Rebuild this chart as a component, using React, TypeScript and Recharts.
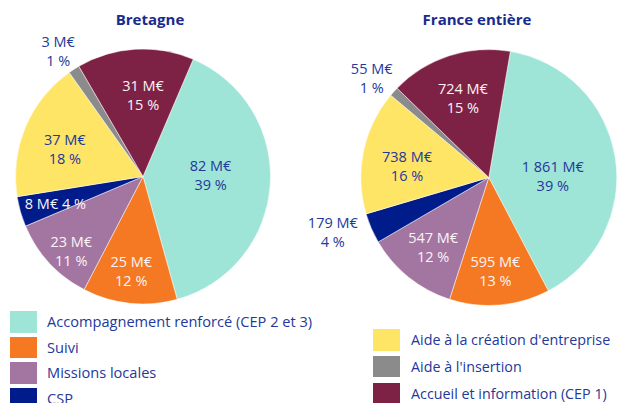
import React from 'react';
import { PieChart, Pie, Cell } from 'recharts';

const categories = [
  'Accompagnement renforcé (CEP 2 et 3)',
  'Suivi',
  'Missions locales',
  'CSP',
  "Aide à la création d'entreprise",
  "Aide à l'insertion",
  'Accueil et information (CEP 1)',
];
const bretagneValues = [82, 25, 23, 8, 37, 3, 31];
const bretagnePct = [39, 12, 11, 4, 18, 1, 15];
const franceValues = [1861, 595, 547, 179, 738, 55, 724];
const francePct = [39, 13, 12, 4, 16, 1, 15];
const titles = ['Bretagne', 'France entière'];

const colors = ['#9ee5d8', '#f47922', '#a376a2', '#001c8b', '#fee566', '#8b8b8b', '#7e2245'];
const DARK = '#24389a';
const LIGHT = '#fbf3f6';
const FONT = '"Open Sans", "Noto Sans", sans-serif';

// label style per slice: radius factor, angle offset (deg clockwise), color, single line
const bretagneLabelStyle = [
  { r: 0.53, da: -4.8, color: DARK, one: false },
  { r: 0.75, da: 1.1, color: LIGHT, one: false },
  { r: 0.81, da: -3.3, color: LIGHT, one: false },
  { r: 0.72, da: -1.4, color: LIGHT, one: true },
  { r: 0.65, da: -3.4, color: DARK, one: false },
  { r: 1.19, da: -1.2, color: DARK, one: false },
  { r: 0.64, da: 3.5, color: LIGHT, one: false },
];
const franceLabelStyle = [
  { r: 0.5, da: 7.7, color: DARK, one: false },
  { r: 0.735, da: 0.9, color: LIGHT, one: false },
  { r: 0.695, da: -0.1, color: LIGHT, one: false },
  { r: 1.29, da: 4.2, color: DARK, one: false },
  { r: 0.645, da: -3.8, color: DARK, one: false },
  { r: 1.2, da: -1.8, color: DARK, one: false },
  { r: 0.65, da: -0.1, color: LIGHT, one: false },
];

const fmt = (v: number) => String(v).replace(/\B(?=(\d{3})+(?!\d))/g, '\u00a0');

const makeData = (vals: number[], pcts: number[]) =>
  categories.map((name, i) => ({ name, value: vals[i], pct: pcts[i] }));

const bretagneData = makeData(bretagneValues, bretagnePct);
const franceData = makeData(franceValues, francePct);

const makeLabel = (styles: typeof bretagneLabelStyle) => (props: any) => {
  const { cx, cy, midAngle, outerRadius, index, payload } = props;
  const s = styles[index];
  const theta = ((90 - midAngle + s.da) * Math.PI) / 180;
  const r = outerRadius * s.r;
  const x = cx + r * Math.sin(theta);
  const y = cy - r * Math.cos(theta);
  const v = payload?.value ?? props.value;
  const p = payload?.pct;
  const l1 = `${fmt(v)} M€`;
  const l2 = `${p} %`;
  if (s.one) {
    return (
      <text x={x} y={y} fill={s.color} textAnchor="middle" dominantBaseline="central" fontSize={14.5} fontFamily={FONT}>
        {`${l1} ${l2}`}
      </text>
    );
  }
  return (
    <g>
      <text x={x} y={y - 9.5} fill={s.color} textAnchor="middle" dominantBaseline="central" fontSize={14.5} fontFamily={FONT}>
        {l1}
      </text>
      <text x={x} y={y + 9.5} fill={s.color} textAnchor="middle" dominantBaseline="central" fontSize={14.5} fontFamily={FONT}>
        {l2}
      </text>
    </g>
  );
};

const legendLeft = [0, 1, 2, 3];
const legendRight = [4, 5, 6];

export default function App() {
  return (
    <div style={{ position: 'absolute', left: 0, top: 0, width: 618, height: 403, overflow: 'hidden', background: '#fff', fontFamily: FONT }}>
      <div style={{ position: 'absolute', left: 50, width: 200, top: 9, textAlign: 'center', fontWeight: 700, fontSize: 15, color: '#1a2a8c' }}>
        {titles[0]}
      </div>
      <div style={{ position: 'absolute', left: 377, width: 200, top: 9, textAlign: 'center', fontWeight: 700, fontSize: 15, color: '#1a2a8c' }}>
        {titles[1]}
      </div>
      <div style={{ position: 'absolute', left: 0, top: 0 }}>
        <PieChart width={618} height={403} margin={{ top: 0, right: 0, bottom: 0, left: 0 }}>
          <Pie
            data={bretagneData}
            dataKey="value"
            cx={143}
            cy={176.5}
            outerRadius={127.5}
            startAngle={66.8}
            endAngle={66.8 - 360}
            stroke="#ffffff"
            strokeWidth={0.5}
            label={makeLabel(bretagneLabelStyle)}
            labelLine={false}
            isAnimationActive={false}
          >
            {bretagneData.map((d, i) => (
              <Cell key={d.name} fill={colors[i]} />
            ))}
          </Pie>
          <Pie
            data={franceData}
            dataKey="value"
            cx={488.8}
            cy={177.5}
            outerRadius={128}
            startAngle={80.3}
            endAngle={80.3 - 360}
            stroke="#ffffff"
            strokeWidth={0.5}
            label={makeLabel(franceLabelStyle)}
            labelLine={false}
            isAnimationActive={false}
          >
            {franceData.map((d, i) => (
              <Cell key={d.name} fill={colors[i]} />
            ))}
          </Pie>
        </PieChart>
      </div>
      {legendLeft.map((ci, k) => (
        <div key={ci} style={{ position: 'absolute', left: 10, top: 311 + k * 25.7, height: 21.5, display: 'flex', alignItems: 'center' }}>
          <div style={{ width: 27, height: 21.5, background: colors[ci] }} />
          <div style={{ marginLeft: 10, fontSize: 14.6, color: DARK, whiteSpace: 'nowrap', lineHeight: '21.5px' }}>{categories[ci]}</div>
        </div>
      ))}
      {legendRight.map((ci, k) => (
        <div key={ci} style={{ position: 'absolute', left: 373, top: 329 + k * 26.8, height: 21.5, display: 'flex', alignItems: 'center' }}>
          <div style={{ width: 27, height: 21.5, background: colors[ci] }} />
          <div style={{ marginLeft: 11, fontSize: 14.3, color: DARK, whiteSpace: 'nowrap', lineHeight: '21.5px' }}>{categories[ci]}</div>
        </div>
      ))}
    </div>
  );
}
